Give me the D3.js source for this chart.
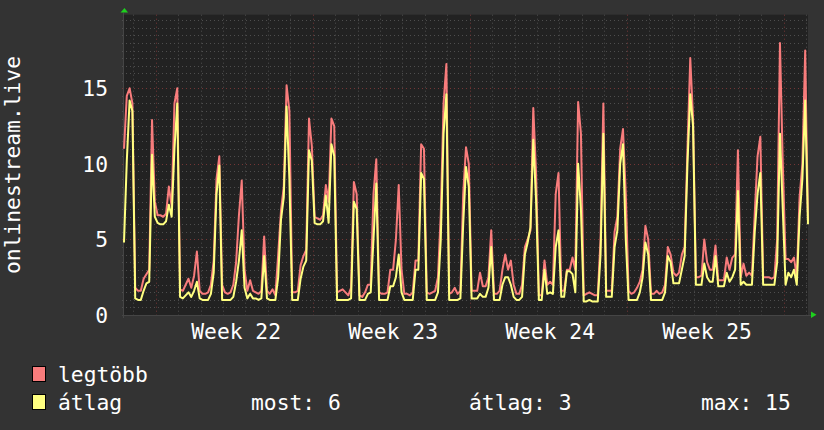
<!DOCTYPE html>
<html><head><meta charset="utf-8">
<script src="https://cdn.jsdelivr.net/npm/d3@7"></script>
<style>html,body{margin:0;padding:0;background:#333333;} svg{display:block}</style>
</head><body><svg id="c" width="824" height="430"></svg>
<script>
// ---- data (3-hour steps, hour 0 = left edge of the chart) ----
const stepHours = 3;
const maxValues = [
 11.0,14.5,15.0,14.0,1.8,1.6,1.6,2.4,2.7,3.0,
 12.9,7.5,6.6,6.6,6.5,6.7,8.5,7.2,14.0,15.0,
 1.7,1.6,2.0,2.4,1.8,2.6,4.2,1.6,1.4,1.4,
 1.5,2.0,3.6,9.0,10.5,2.0,1.5,1.4,1.5,2.0,
 3.5,6.6,8.9,3.0,1.6,2.3,1.6,1.5,1.4,1.6,
 5.2,1.6,1.4,1.7,1.3,4.0,6.9,8.5,15.2,13.5,
 1.5,1.5,1.6,3.3,3.9,4.3,13.0,11.2,6.5,6.4,
 6.3,6.6,8.6,7.5,13.0,12.5,1.5,1.6,1.7,1.5,
 1.3,1.8,8.8,8.0,1.3,1.2,1.5,2.0,2.0,8.0,
 10.3,1.5,1.4,1.4,1.5,3.0,3.0,5.0,8.6,3.0,
 1.4,1.4,1.3,1.5,3.6,3.6,11.3,11.0,1.5,1.4,
 1.5,1.6,2.5,6.7,14.0,16.6,1.4,1.5,1.8,1.4,
 1.6,8.0,11.1,10.0,1.6,1.6,1.6,2.8,1.9,1.9,
 2.5,5.6,1.4,1.4,1.6,3.0,4.0,3.0,3.6,2.0,
 1.4,1.4,2.0,4.5,5.0,5.6,13.7,9.4,1.3,1.3,
 3.6,2.0,2.2,2.0,8.0,9.4,1.6,1.6,3.0,3.0,
 3.8,3.0,14.1,12.0,1.3,1.4,1.5,1.4,1.3,1.3,
 5.0,14.0,1.6,1.6,1.6,5.5,6.5,11.0,12.3,8.0,
 1.6,1.4,1.5,1.8,2.2,3.0,5.9,5.0,1.4,1.4,
 1.6,1.4,1.5,2.0,4.5,4.0,2.8,2.6,2.8,4.0,
 4.5,11.0,17.0,13.0,2.5,2.5,2.6,5.0,3.5,3.0,
 3.0,4.6,2.3,2.3,2.3,3.8,3.0,3.8,4.0,10.9,
 2.5,3.4,2.6,2.8,2.6,6.7,10.5,11.8,2.5,2.5,
 2.5,2.4,2.5,5.0,18.0,10.0,3.7,3.7,3.5,3.8,
 2.5,7.8,10.0,17.5,6.2
];
const avgValues = [
 4.8,10.2,14.2,13.5,1.1,1.0,1.0,1.6,2.1,2.2,
 10.6,6.5,6.1,6.0,6.0,6.2,7.3,6.5,11.0,14.0,
 1.2,1.1,1.3,1.5,1.2,1.6,2.2,1.1,1.0,1.0,
 1.0,1.4,2.8,8.0,9.9,1.0,1.0,1.0,1.0,1.2,
 2.2,3.6,5.6,1.8,1.1,1.4,1.1,1.1,1.0,1.1,
 3.9,1.1,1.0,1.0,1.0,2.5,6.3,7.8,13.8,9.0,
 1.0,1.0,1.0,2.4,3.2,3.6,10.9,10.2,6.1,6.0,
 6.0,6.2,7.9,6.1,11.3,10.5,1.0,1.0,1.0,1.0,
 1.0,1.1,7.5,7.0,1.0,1.0,1.0,1.4,1.5,5.0,
 8.7,1.0,1.0,1.0,1.0,1.9,1.9,2.5,4.0,1.5,
 1.0,1.0,1.0,1.0,3.0,3.0,9.4,9.0,1.0,1.0,
 1.0,1.0,1.5,5.0,12.0,14.6,1.0,1.0,1.0,1.0,
 1.1,6.0,9.8,8.5,1.1,1.1,1.1,1.4,1.2,1.2,
 1.8,4.5,1.0,1.0,1.0,2.0,2.5,2.5,2.0,1.2,
 1.0,1.0,1.2,4.0,4.8,5.8,11.6,7.6,1.0,1.0,
 3.0,1.4,1.5,1.4,4.5,5.6,1.2,1.2,2.9,2.9,
 2.7,1.5,10.0,7.0,0.9,0.9,1.0,0.9,0.9,0.9,
 4.0,12.0,1.2,1.2,1.2,4.5,5.6,10.0,11.3,5.0,
 1.0,1.0,1.0,1.0,1.5,2.5,4.8,4.0,1.0,1.0,
 1.0,1.0,1.0,1.5,3.9,3.5,2.1,2.1,2.1,3.0,
 3.9,10.0,14.6,12.5,2.0,2.0,2.0,3.4,2.5,2.2,
 2.2,3.9,1.9,1.9,1.9,2.8,2.2,2.5,3.0,8.2,
 2.0,2.2,2.0,2.0,2.0,5.5,8.0,9.4,2.0,2.0,
 2.0,2.0,2.0,3.5,12.0,7.0,2.0,2.8,2.5,3.0,
 2.0,6.5,9.0,14.2,6.0
];
const yTickValues = [0, 5, 10, 15];
const weekLabels = ["Week 22", "Week 23", "Week 24", "Week 25"];
const weekStartHours = [34, 202, 370, 538, 706];
const firstDayHour = 10;
const seriesNames = ["legtöbb", "átlag"];
const statLabels = ["most: 6", "átlag: 3", "max: 15"];
const axisTitle = "onlinestream.live";

(function () {
const W = 824, H = 430;
const pLeft = 124, pRight = 808, pTop = 14.7, pBottom = 315;
const totalHours = 732;
const yMaxValue = 19.87;
const font = "'DejaVu Sans Mono', monospace";
const fs = 21.3;
const red = "#f87c7c", yellow = "#ffff80";

const svg = d3.select("#c");
svg.append("rect").attr("width", W).attr("height", H).attr("fill", "#333333");

const x = d3.scaleLinear().domain([0, totalHours]).range([pLeft, pRight]);
const y = d3.scaleLinear().domain([0, yMaxValue]).range([pBottom, pTop]);

svg.append("rect").attr("x", pLeft).attr("y", pTop)
  .attr("width", pRight - pLeft).attr("height", pBottom - pTop).attr("fill", "#222222");

const grid = svg.append("g");
const minorColor = "#4e4e4e", majorColor = "#743636";
const dash = "1,3";
const hMinor = d3.range(0.5, yMaxValue, 0.5).filter(v => v % 5 !== 0);
grid.selectAll(".hm").data(hMinor).join("line")
  .attr("x1", pLeft - 2).attr("x2", pRight + 2)
  .attr("y1", d => Math.round(y(d)) + 0.5).attr("y2", d => Math.round(y(d)) + 0.5)
  .attr("stroke", minorColor).attr("stroke-width", 1).attr("stroke-dasharray", dash);
const dayHours = d3.range(firstDayHour, totalHours, 24).filter(h => !weekStartHours.includes(h));
grid.selectAll(".vm").data(dayHours).join("line")
  .attr("x1", d => Math.round(x(d)) + 0.5).attr("x2", d => Math.round(x(d)) + 0.5)
  .attr("y1", pTop).attr("y2", pBottom + 2)
  .attr("stroke", minorColor).attr("stroke-width", 1).attr("stroke-dasharray", dash);
grid.selectAll(".hM").data(yTickValues.filter(v => v > 0)).join("line")
  .attr("x1", pLeft - 2).attr("x2", pRight + 2)
  .attr("y1", d => Math.round(y(d)) + 0.5).attr("y2", d => Math.round(y(d)) + 0.5)
  .attr("stroke", majorColor).attr("stroke-width", 1).attr("stroke-dasharray", dash);
grid.selectAll(".vM").data(weekStartHours).join("line")
  .attr("x1", d => Math.round(x(d)) + 0.5).attr("x2", d => Math.round(x(d)) + 0.5)
  .attr("y1", pTop).attr("y2", pBottom + 3)
  .attr("stroke", majorColor).attr("stroke-width", 1).attr("stroke-dasharray", dash);

svg.append("line").attr("x1", pLeft - 2).attr("x2", pRight + 4)
  .attr("y1", pBottom + 0.5).attr("y2", pBottom + 0.5).attr("stroke", "#454545");
svg.append("line").attr("x1", pLeft - 0.5).attr("x2", pLeft - 0.5)
  .attr("y1", pTop - 2).attr("y2", pBottom + 3).attr("stroke", "#454545");

svg.append("path").attr("d", `M${pLeft - 3.5},12.5 L${pLeft + 0.5},8 L${pLeft + 4},12.5 Z`).attr("fill", "#1ed01e");
svg.append("path").attr("d", `M811,311.5 L816.5,314.8 L811,318 Z`).attr("fill", "#1ed01e");

const line = d3.line().x((d, i) => x(i * stepHours)).y(d => y(d)).curve(d3.curveLinear);
const plot = svg.append("g");
plot.append("path").datum(maxValues).attr("d", line)
  .attr("fill", "none").attr("stroke", red).attr("stroke-width", 2).attr("stroke-linejoin", "round");
plot.append("path").datum(avgValues).attr("d", line)
  .attr("fill", "none").attr("stroke", yellow).attr("stroke-width", 2).attr("stroke-linejoin", "round");

svg.selectAll(".yl").data(yTickValues).join("text")
  .attr("x", 108).attr("y", d => y(d) + 8)
  .attr("text-anchor", "end").attr("fill", "#ffffff")
  .style("font-family", font).style("font-size", fs + "px")
  .text(d => d);

svg.selectAll(".xl").data(weekLabels).join("text")
  .attr("x", (d, i) => x(weekStartHours[i] + 86)).attr("y", 339)
  .attr("text-anchor", "middle").attr("fill", "#ffffff")
  .style("font-family", font).style("font-size", fs + "px")
  .text(d => d);

svg.append("text").attr("transform", "translate(20,165) rotate(-90)")
  .attr("text-anchor", "middle").attr("fill", "#ffffff")
  .style("font-family", font).style("font-size", fs + "px")
  .text(axisTitle);

const colors = [red, yellow];
const lg = svg.append("g");
seriesNames.forEach((name, i) => {
  const by = 366 + i * 28;
  lg.append("rect").attr("x", 32.5).attr("y", by + 0.5).attr("width", 13).attr("height", 15)
    .attr("fill", colors[i]).attr("stroke", "#000").attr("stroke-width", 1);
  lg.append("text").attr("x", 58).attr("y", by + 16).attr("fill", "#ffffff")
    .style("font-family", font).style("font-size", fs + "px").text(name);
});
const statX = [251, 469, 701];
statLabels.forEach((s, i) => {
  lg.append("text").attr("x", statX[i]).attr("y", 410).attr("fill", "#ffffff")
    .style("font-family", font).style("font-size", fs + "px").text(s);
});
})();
</script></body></html>
